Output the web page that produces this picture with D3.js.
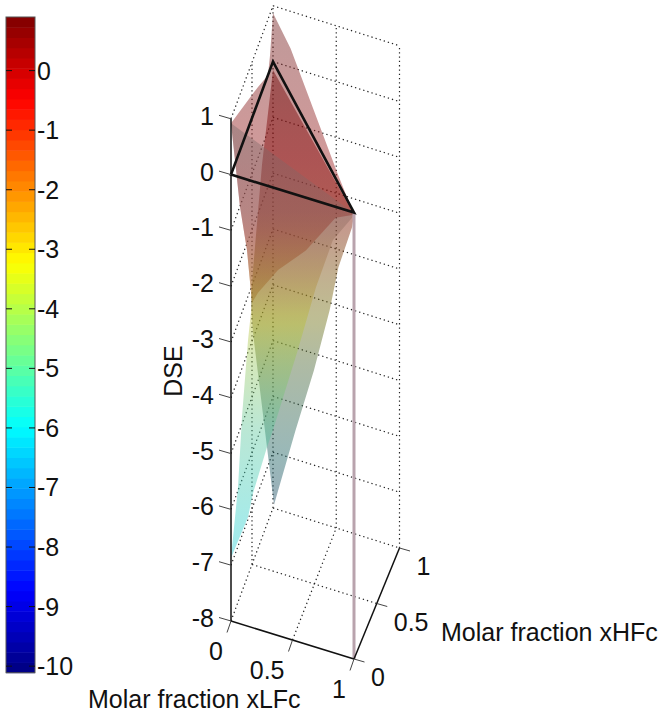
<!DOCTYPE html>
<html><head><meta charset="utf-8">
<script src="https://cdnjs.cloudflare.com/ajax/libs/d3/7.8.5/d3.min.js"></script>
<style>html,body{margin:0;padding:0;background:#fff}svg{display:block}text{font-family:"Liberation Sans",Arial,sans-serif;fill:#111}</style>
</head><body><svg id="c" width="659" height="713"></svg>
<script>
// ---- values ----
const zTicks = [1,0,-1,-2,-3,-4,-5,-6,-7,-8];
const xTicks = [0,0.5,1];
const xTickLabels = ["0","0.5","1"];
const cbarTicks = [0,-1,-2,-3,-4,-5,-6,-7,-8,-9,-10];
const cbarDomain = [-10.11,0.9];
// surface outlines: [xLFc, xHFc, DSE]
const sheetC = [[0,1,.87],[.21,.79,.81],[.494,.506,.47],[.79,.21,.14],[1,0,-.04],[.765,.235,-.72],[.395,.605,-2.31],[.06,.94,-3.57],[0,.643,-3.42],[0,.5,-3.31],[0,.38,-2.12],[0,.214,-1.01],[0,0,.92],[0,.643,.27],[0,.88,0],[0,.93,.26]];
const sheetA = [[0,0,.92],[1,0,-.01],[.975,.025,-.16],[.73,.27,-1.22],[.52,.48,-2.63],[.296,.704,-4.37],[0,1,-6.6],[0,.857,-6.62],[0,.524,-6.77],[0,.405,-6.96],[0,0,-6.87],[0,.167,-5.94],[0,.262,-4.87],[0,.405,-3.79],[0,.5,-3.31],[0,.38,-2.12],[0,.214,-1.01]];
const sheetB = [[0,1,-.15],[1,0,-.04],[.975,.025,-.33],[.8,.2,-1.52],[.69,.31,-2.58],[.494,.506,-4.19],[.27,.73,-5.87],[.012,.988,-7.91],[0,.857,-6.62],[0,.524,-3.9],[0,.476,-3.27],[0,.524,-2.77],[0,.738,-1.32]];
const triangle = [[0,0,0],[1,0,0],[0,1,0]];
const sliver = [[1,0,0],[1,0,-8]];
// colour value and colour strength of each sheet at heights on the DSE axis
const levelsA = [.92,-.72,-1.9,-2.97,-4.6,-6.9], colourA = [.5,-1,-2.3,-3.7,-5.2,-6.2], strengthA = [.1,.15,.5,.7,.7,.8];
const levelsB = [1.87,-.72,-2.25,-3.5,-4.6,-5.92], colourB = [0,-.8,-2.8,-4.3,-5.5,-7], strengthB = [1,1,.8,.6,.55,.55];
const levelsC = [2.9,-.72,-2.25], colourC = [.8,-.2,-1.5], strengthC = [.7,.7,.6];

const svg = d3.select("#c"), defs = svg.append("defs");
const FS = 25, LFS = 25;

// ---- projection ----
const leftX = d3.scaleLinear([0,1],[231,273]), leftY = d3.scaleLinear([0,1],[621,508]);
const rightX = d3.scaleLinear([0,1],[354,399.5]), rightY = d3.scaleLinear([0,1],[659,548]);
const zPix = d3.scaleLinear([-8,1],[0,502.2]);
function proj(x,y,z){
  const m = d3.scaleLinear([0,1],[leftX(y),rightX(y)]), n = d3.scaleLinear([0,1],[leftY(y),rightY(y)]);
  return [m(x), n(x)-zPix(z)];
}
const line3 = d3.line(d=>proj(...d)[0], d=>proj(...d)[1]);

// ---- colormap (64-step jet) ----
function jet(t){
  const f = v=>Math.round(255*Math.max(0,Math.min(1,v)));
  return [f(1.5-Math.abs(4*t-3)), f(1.5-Math.abs(4*t-2)), f(1.5-Math.abs(4*t-1))];
}
const cT = d3.scaleLinear(cbarDomain,[0,1]).clamp(true);

// ---- colourbar ----
const bands = d3.range(64);
const barY = d3.scaleBand(bands,[672.7,17]);
const barVal = d3.scaleLinear(cbarDomain,[672.7,17]);
const cb = svg.append("g");
cb.selectAll("rect.b").data(bands).join("rect").attr("class","b")
  .attr("x",6).attr("width",29).attr("y",d=>barY(d)).attr("height",barY.bandwidth()+.5)
  .attr("fill",d=>{const c=jet((d+.5)/64);return `rgb(${c})`});
cb.append("rect").attr("x",6).attr("y",17).attr("width",29).attr("height",655.7).attr("fill","none").attr("stroke","#555").attr("stroke-width",1);
cb.selectAll("path.t").data(cbarTicks).join("path").attr("class","t")
  .attr("d",d=>{const y=barVal(d);return `M6,${y}H12M29,${y}H35`}).attr("stroke","#111").attr("stroke-width",1);
cb.selectAll("text").data(cbarTicks).join("text").attr("x",37).attr("y",d=>barVal(d)+9)
  .attr("font-size",FS).text(d=>String(d));

// ---- grid ----
const grid = svg.append("g").attr("fill","none").attr("stroke","#222").attr("stroke-width",1.2).attr("stroke-dasharray","1.3 3");
function gl(a,b){grid.append("path").attr("d",line3([a,b]));}
zTicks.forEach(z=>{gl([0,0,z],[0,1,z]);gl([0,1,z],[1,1,z]);});
gl([0,.5,-8],[0,.5,1]);gl([0,1,-8],[0,1,1]);gl([.5,1,-8],[.5,1,1]);gl([1,1,-8],[1,1,1]);
gl([.5,0,-8],[.5,1,-8]);gl([0,.5,-8],[1,.5,-8]);

// ---- surfaces ----
function sheet(id,pts,levels,colours,strength,shade,op){
  const g = defs.append("linearGradient").attr("id",id).attr("gradientUnits","userSpaceOnUse")
    .attr("x1",0).attr("x2",0).attr("y1",proj(0,0,3)[1]).attr("y2",proj(0,0,-8)[1]);
  const toC = d3.scaleLinear(levels,colours), toS = d3.scaleLinear(levels,strength);
  d3.range(0,1.0001,1/60).forEach(t=>{
    const lvl = 3-11*t, s = toS(lvl);
    const c = jet(cT(toC(lvl))).map(v=>Math.round((v*s+130*(1-s))*shade));
    g.append("stop").attr("offset",t).attr("stop-color",`rgb(${c})`);
  });
  svg.append("path").attr("d",line3(pts)+"Z").attr("fill",`url(#${id})`).attr("fill-opacity",op);
}
sheet("gC",sheetC,levelsC,colourC,strengthC,.85,.46);
sheet("gB",sheetB,levelsB,colourB,strengthB,.5,.45);
sheet("gA",sheetA,levelsA,colourA,strengthA,.9,.4);
svg.append("path").attr("d",line3(sliver)).attr("stroke","#b9a3ad").attr("stroke-width",3).attr("fill","none");

// ---- black triangle ----
svg.append("path").attr("d",line3(triangle)+"Z").attr("fill","none").attr("stroke","#111").attr("stroke-width",2.6).attr("stroke-linejoin","miter");

// ---- axes ----
const ax = svg.append("g").attr("fill","none").attr("stroke","#111");
ax.append("path").attr("d",line3([[0,0,1],[0,0,-8]])).attr("stroke-width",1.5);
ax.append("path").attr("d",line3([[0,0,-8],[1,0,-8]])).attr("stroke-width",1.5);
ax.append("path").attr("d",line3([[1,0,-8],[1,1,-8]])).attr("stroke-width",1.5);
const tl = svg.append("g").attr("fill","none").attr("stroke","#444").attr("stroke-width",1);
zTicks.forEach(z=>{const p=proj(0,0,z);tl.append("path").attr("d",`M${p}l-12,-3.5`);});
xTicks.forEach(v=>{const p=proj(v,0,-8);tl.append("path").attr("d",`M${p}l-4,11.5`);
  const q=proj(1,v,-8);tl.append("path").attr("d",`M${q}l10.5,3`);});
svg.selectAll("text.z").data(zTicks).join("text").attr("class","z").attr("text-anchor","end")
  .attr("x",214).attr("y",d=>proj(0,0,d)[1]+6).attr("font-size",FS).text(d=>String(d));
xTicks.forEach((v,i)=>{
  const p=proj(v,0,-8), q=proj(1,v,-8);
  svg.append("text").attr("text-anchor","end").attr("x",p[0]-8).attr("y",p[1]+39).attr("font-size",FS).text(xTickLabels[i]);
  svg.append("text").attr("x",q[0]+17).attr("y",q[1]+27).attr("font-size",FS).text(xTickLabels[i]);
});
svg.append("text").attr("x",441).attr("y",641).attr("font-size",LFS).text("Molar fraction xHFc");
svg.append("text").attr("x",88).attr("y",708).attr("font-size",LFS).text("Molar fraction xLFc");
svg.append("text").attr("transform","translate(182,371) rotate(-90)").attr("text-anchor","middle").attr("font-size",LFS).text("DSE");
</script></body></html>
